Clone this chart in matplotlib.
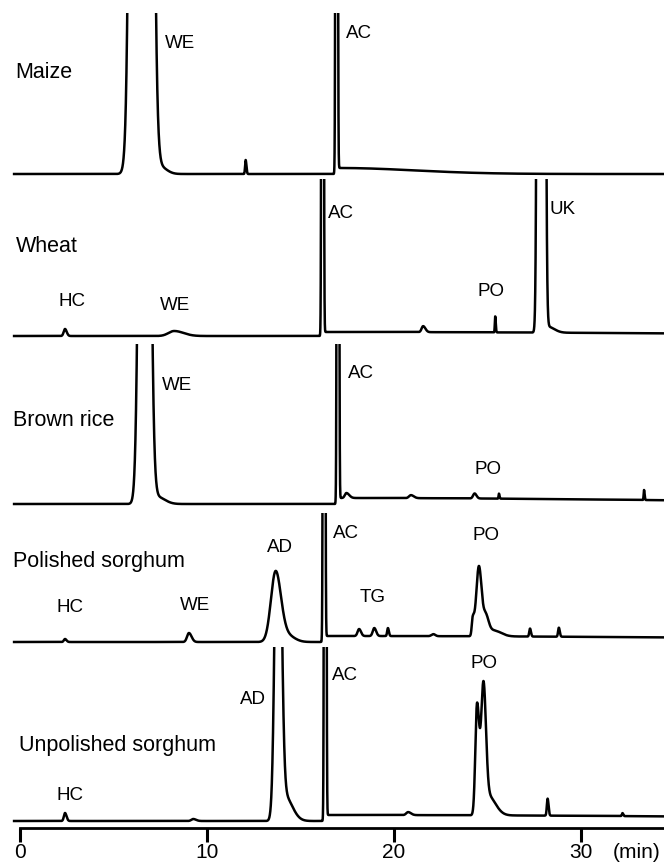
import numpy as np
import matplotlib
matplotlib.use('Agg')
import matplotlib.pyplot as plt

plt.rcParams['font.family'] = ['Liberation Sans', 'DejaVu Sans']

# peak tables:
# (retention time in min, height above baseline, left width, right width)
maize_peaks = [
    (6.5, 8000, 0.27, 0.28),     # WE
    (7.5, 7, 0.20, 0.35),
    (12.07, 14, 0.03, 0.04),
    (16.93, 3000, 0.035, 0.035),  # AC
    (17.05, 6, 0.05, 4.0),
]
wheat_peaks = [
    (2.42, 7, 0.07, 0.09),       # HC
    (8.25, 5, 0.30, 0.50),       # WE
    (16.18, 3000, 0.035, 0.035),  # AC
    (16.3, 4, 0.05, 20.0),
    (21.55, 6, 0.08, 0.12),
    (25.4, 16, 0.02, 0.03),      # PO
    (27.85, 7800, 0.096, 0.105),  # UK
    (28.2, 6, 0.15, 0.35),
]
brown_rice_peaks = [
    (6.67, 1280, 0.20, 0.21),    # WE
    (7.35, 7, 0.20, 0.40),
    (17.0, 3000, 0.035, 0.035),   # AC
    (17.1, 6, 0.05, 18.0),
    (17.45, 5, 0.08, 0.15),
    (20.9, 3, 0.10, 0.15),
    (24.3, 5, 0.08, 0.10),       # PO
    (25.6, 5, 0.02, 0.03),
    (33.35, 10, 0.02, 0.03),
]
polished_peaks = [
    (2.42, 3, 0.06, 0.08),       # HC
    (9.04, 9, 0.10, 0.14),       # WE
    (13.67, 70, 0.25, 0.28),     # AD
    (14.25, 7, 0.30, 0.40),
    (16.26, 3000, 0.035, 0.035),  # AC
    (16.35, 6, 0.05, 25.0),
    (18.13, 7, 0.08, 0.10),      # TG
    (18.94, 8, 0.08, 0.10),
    (19.67, 8, 0.04, 0.05),
    (22.1, 2, 0.10, 0.10),
    (24.2, 16, 0.05, 0.08),      # PO
    (24.53, 70, 0.14, 0.15),
    (24.9, 18, 0.12, 0.15),
    (25.3, 6, 0.30, 0.40),
    (27.26, 8, 0.04, 0.05),
    (28.8, 9, 0.04, 0.05),
]
unpolished_peaks = [
    (2.42, 8, 0.06, 0.08),       # HC
    (9.27, 2, 0.10, 0.15),
    (13.8, 430, 0.15, 0.16),     # AD
    (14.15, 25, 0.25, 0.40),
    (16.32, 3000, 0.035, 0.035),  # AC
    (16.4, 6, 0.05, 25.0),
    (20.75, 3, 0.10, 0.15),
    (24.43, 110, 0.09, 0.12),    # PO
    (24.77, 122, 0.12, 0.13),
    (25.0, 20, 0.20, 0.40),
    (28.2, 17, 0.04, 0.05),
    (32.2, 3, 0.03, 0.04),
]

samples = ['Maize', 'Wheat', 'Brown rice', 'Polished sorghum', 'Unpolished sorghum']
peak_tables = [maize_peaks, wheat_peaks, brown_rice_peaks, polished_peaks, unpolished_peaks]

# peak labels: (text, time, height above baseline)
peak_labels = [
    [('WE', 8.59, 131), ('AC', 18.15, 141)],
    [('HC', 2.77, 34), ('WE', 8.32, 31), ('AC', 17.16, 122), ('PO', 25.17, 45), ('UK', 29.02, 126)],
    [('WE', 8.43, 118), ('AC', 18.23, 130), ('PO', 25.04, 34)],
    [('HC', 2.69, 34), ('WE', 9.36, 37), ('AD', 13.88, 94), ('AC', 17.43, 109),
     ('TG', 18.87, 44), ('PO', 24.91, 107)],
    [('HC', 2.69, 26), ('AD', 12.44, 121), ('AC', 17.35, 146), ('PO', 24.8, 158)],
]
name_pos = [(-0.25, 101), (-0.2, 89), (-0.36, 83), (-0.36, 80), (-0.04, 75)]

# layout in pixels: (baseline y, clip top y) for each panel
W, H = 664, 865
panel_px = [(174, 13), (336, 179), (504, 344), (642, 513), (821, 647)]
below = 10
px_per_min = 18.72
x0_px = 19.7
tmin = -x0_px / px_per_min
tmax = (W - x0_px) / px_per_min

t = np.linspace(-0.3, tmax, 30000)


def trace(peaks):
    y = np.zeros_like(t)
    for rt, h, sl, sr in peaks:
        s = np.where(t < rt, sl, sr)
        y += h * np.exp(-0.5 * ((t - rt) / s) ** 2)
    return y


fig = plt.figure(figsize=(W / 100, H / 100), dpi=100)

for name, peaks, labels, npos, (base, top) in zip(samples, peak_tables, peak_labels,
                                                   name_pos, panel_px):
    ax = fig.add_axes([0, (H - base - below) / H, 1, (base + below - top) / H])
    ax.plot(t, trace(peaks), color='black', lw=1.8)
    ax.set_xlim(tmin, tmax)
    ax.set_ylim(-below, base - top)
    ax.axis('off')
    ax.text(npos[0], npos[1], name, ha='left', va='center', fontsize=15.5)
    for txt, lx, ly in labels:
        ax.text(lx, ly, txt, ha='center', va='center', fontsize=13.5)

# time axis
axx = fig.add_axes([0, (H - 828) / H, 1, 1 / H])
axx.set_xlim(tmin, tmax)
axx.set_yticks([])
for side in ['top', 'left', 'right']:
    axx.spines[side].set_visible(False)
axx.spines['bottom'].set_linewidth(2)
axx.spines['bottom'].set_bounds(0, tmax)
axx.patch.set_alpha(0)
axx.set_xticks([0, 10, 20, 30])
axx.tick_params(axis='x', direction='out', length=10, width=2.2, labelsize=15, pad=1)
fig.text(636.5 / W, 1 - 853 / H, '(min)', ha='center', va='center', fontsize=15)

fig.savefig('out.png', dpi=100)
